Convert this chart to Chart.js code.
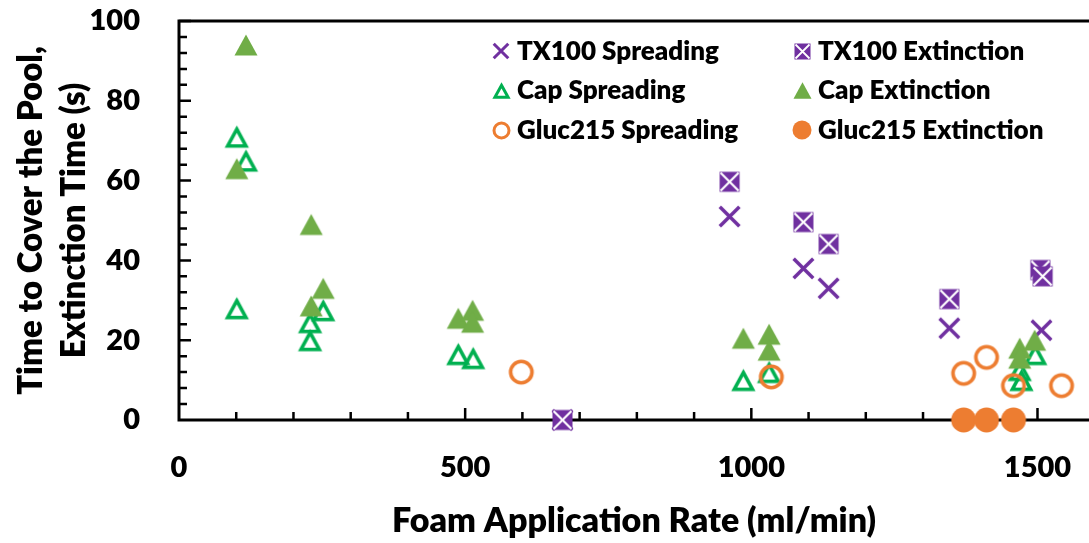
<!DOCTYPE html>
<html>
<head>
<meta charset="utf-8">
<script src="https://cdn.jsdelivr.net/npm/chart.js@4.4.1/dist/chart.umd.min.js"></script>
<style>
  html, body { margin: 0; padding: 0; background: #fff; }
  #wrap { position: relative; width: 1089px; height: 543px; overflow: hidden; }
  #legend { position: absolute; left: 0; top: 0; font-family: Lato, sans-serif; font-weight: 800; font-size: 26px; color: #000; }
  #legend canvas { position: absolute; }
  #legend span { position: absolute; line-height: 32px; white-space: nowrap; }
</style>
</head>
<body>
<div id="wrap">
  <canvas id="chart" width="1089" height="543"></canvas>
  <div id="legend"></div>
</div>
<script>
// --- data (x = ml/min, y = seconds) ---
const tx100SpreadX = [670, 962, 1091, 1135, 1346, 1507];
const tx100SpreadY = [0, 51, 38, 33, 23, 22.5];

const tx100ExtX = [670, 962, 1091, 1135, 1346, 1505, 1509];
const tx100ExtY = [0, 59.7, 49.6, 44.1, 30.3, 37.6, 36];

const capSpreadX = [101, 117, 101, 229, 229, 252, 488, 514, 986, 1031, 1472, 1469, 1496];
const capSpreadY = [71, 65, 28, 20, 24.5, 27.5, 16.5, 15.5, 10, 12, 10, 12.5, 16.5];

const capExtX = [117, 101, 231, 231, 252, 488, 513, 513, 986, 1031, 1031, 1469, 1469, 1495];
const capExtY = [94, 63, 49, 28.6, 33, 25.5, 27.5, 24.5, 20.5, 21.5, 17.5, 18, 15.5, 20];

const glucSpreadX = [598, 1035, 1371, 1411, 1458, 1542];
const glucSpreadY = [12, 10.8, 11.7, 15.7, 8.6, 8.6];

const glucExtX = [1371, 1411, 1458];
const glucExtY = [0, 0, 0];

const seriesLabels = ['TX100 Spreading', 'TX100 Extinction', 'Cap Spreading', 'Cap Extinction', 'Gluc215 Spreading', 'Gluc215 Extinction'];
const xTickLabels = [0, 500, 1000, 1500];
const yTickLabels = [0, 20, 40, 60, 80, 100];

const PURPLE = '#7030A0';
const GREEN = '#00B050';
const LIGHT_GREEN = '#70AD47';
const ORANGE = '#ED7D31';
const TICK_FONT = { family: 'Lato', weight: '800', size: 29 };
const TITLE_FONT = { family: 'Lato', weight: '800', size: 34 };

// draw one Excel-like marker centred at cx,cy with outer size s
function drawMarker(ctx, type, cx, cy, s, lw) {
    ctx.save();
    ctx.lineJoin = 'miter';
    if (type === 'x') {
        const h = s / 2 - 1.2;
        ctx.strokeStyle = PURPLE;
        ctx.lineWidth = lw;
        ctx.beginPath();
        ctx.moveTo(cx - h, cy - h); ctx.lineTo(cx + h, cy + h);
        ctx.moveTo(cx + h, cy - h); ctx.lineTo(cx - h, cy + h);
        ctx.stroke();
    } else if (type === 'xbox') {
        const h = s / 2;
        ctx.fillStyle = PURPLE;
        ctx.fillRect(cx - h, cy - h, s, s);
        ctx.strokeStyle = '#fff';
        ctx.lineWidth = lw;
        ctx.beginPath();
        ctx.moveTo(cx - h + 1, cy - h + 1); ctx.lineTo(cx + h - 1, cy + h - 1);
        ctx.moveTo(cx + h - 1, cy - h + 1); ctx.lineTo(cx - h + 1, cy + h - 1);
        ctx.stroke();
    } else if (type === 'tri') {
        const w = s - 1.6 * lw, h = s - 2 * lw;
        ctx.strokeStyle = GREEN;
        ctx.lineWidth = lw;
        ctx.beginPath();
        ctx.moveTo(cx, cy - h / 2 + 0.8);
        ctx.lineTo(cx + w / 2, cy + h / 2 + 0.8);
        ctx.lineTo(cx - w / 2, cy + h / 2 + 0.8);
        ctx.closePath();
        ctx.stroke();
    } else if (type === 'triFill') {
        const w = s, h = s * 0.92;
        ctx.fillStyle = LIGHT_GREEN;
        ctx.beginPath();
        ctx.moveTo(cx, cy - h / 2);
        ctx.lineTo(cx + w / 2, cy + h / 2);
        ctx.lineTo(cx - w / 2, cy + h / 2);
        ctx.closePath();
        ctx.fill();
    } else if (type === 'circle') {
        ctx.strokeStyle = ORANGE;
        ctx.lineWidth = lw;
        ctx.beginPath();
        ctx.arc(cx, cy, (s - lw) / 2, 0, Math.PI * 2);
        ctx.stroke();
    } else if (type === 'dot') {
        ctx.fillStyle = ORANGE;
        ctx.beginPath();
        ctx.arc(cx, cy, s / 2, 0, Math.PI * 2);
        ctx.fill();
    }
    ctx.restore();
}

function makeMarker(type, s, lw) {
    const c = document.createElement('canvas');
    const size = Math.ceil(s) + 9;
    c.width = size; c.height = size;
    drawMarker(c.getContext('2d'), type, size / 2, size / 2, s, lw);
    return c;
}

const markerTypes = ['x', 'xbox', 'tri', 'triFill', 'circle', 'dot'];
const chartSizes = [[22, 3.5], [20, 2.2], [24, 3.6], [23, 0], [25, 3.6], [25, 0]];
const legendSizes = [[17, 3], [16, 1.8], [18, 3], [18, 0], [18, 3], [19, 0]];

const zip = (xs, ys) => xs.map((x, i) => ({ x: x, y: ys[i] }));
const seriesX = [tx100SpreadX, tx100ExtX, capSpreadX, capExtX, glucSpreadX, glucExtX];
const seriesY = [tx100SpreadY, tx100ExtY, capSpreadY, capExtY, glucSpreadY, glucExtY];

// axis lines, top border and Excel style inside tick marks
const axisPlugin = {
    id: 'excelAxes',
    beforeDatasetsDraw(chart) {
        const { ctx, chartArea: a, scales: { x, y } } = chart;
        ctx.save();
        ctx.strokeStyle = '#000';
        ctx.lineWidth = 3;
        ctx.beginPath();
        ctx.moveTo(a.left, a.top - 1.5); ctx.lineTo(a.left, a.bottom + 1.5);
        ctx.moveTo(a.left - 1.5, a.bottom); ctx.lineTo(a.right, a.bottom);
        ctx.moveTo(a.left - 1.5, a.top); ctx.lineTo(a.right, a.top);
        ctx.stroke();
        ctx.lineWidth = 2.5;
        ctx.beginPath();
        for (let v = 100; v <= x.max; v += 100) {
            const px = x.getPixelForValue(v);
            const len = v % 500 === 0 ? 12 : 8;
            ctx.moveTo(px, a.bottom); ctx.lineTo(px, a.bottom - len);
        }
        for (let v = 4; v <= 100; v += 4) {
            const py = y.getPixelForValue(v);
            const len = v % 20 === 0 ? 12 : 8;
            ctx.moveTo(a.left, py); ctx.lineTo(a.left + len, py);
        }
        ctx.stroke();
        ctx.restore();
    }
};

// keep the plot area where Excel put it
function noPadding(s) {
    s.paddingTop = 0; s.paddingBottom = 0; s.paddingLeft = 0; s.paddingRight = 0;
}

function buildLegend() {
    const legend = document.getElementById('legend');
    const colX = [[501, 517], [802, 818]];
    const rowY = [51, 90, 130];
    seriesLabels.forEach((label, i) => {
        const [mx, tx] = colX[i % 2];
        const ry = rowY[Math.floor(i / 2)];
        const [s, lw] = legendSizes[i];
        const c = makeMarker(markerTypes[i], s, lw);
        c.style.left = (mx - c.width / 2) + 'px';
        c.style.top = (ry - c.height / 2) + 'px';
        legend.appendChild(c);
        const span = document.createElement('span');
        span.textContent = label;
        span.style.left = tx + 'px';
        span.style.top = (ry - 17) + 'px';
        legend.appendChild(span);
    });
}

function draw() {
    const ctx = document.getElementById('chart').getContext('2d');
    const datasets = seriesLabels.map((label, i) => ({
        label: label,
        data: zip(seriesX[i], seriesY[i]),
        pointStyle: makeMarker(markerTypes[i], chartSizes[i][0], chartSizes[i][1]),
        pointRadius: 12,
        order: 5 - i,       // later series on top, like Excel
        clip: false
    }));

    new Chart(ctx, {
        type: 'scatter',
        data: { datasets: datasets },
        plugins: [axisPlugin],
        options: {
            responsive: false,
            animation: false,
            events: [],
            layout: { autoPadding: false, padding: { left: 0, right: 0, top: 21, bottom: 0 } },
            plugins: { legend: { display: false }, tooltip: { enabled: false } },
            scales: {
                x: {
                    type: 'linear', min: 0, max: 1590,
                    grid: { display: false, drawTicks: false },
                    border: { display: false },
                    afterBuildTicks: s => { s.ticks = xTickLabels.map(v => ({ value: v })); },
                    afterFit: s => { s.height = 123; noPadding(s); },
                    ticks: { color: '#000', font: TICK_FONT, padding: 30, maxRotation: 0, autoSkip: false,
                             callback: v => String(v) },
                    title: {
                        display: true, text: 'Foam Application Rate (ml/min)', color: '#000',
                        font: TITLE_FONT, padding: { top: 0, bottom: 2 }
                    }
                },
                y: {
                    type: 'linear', min: 0, max: 100,
                    grid: { display: false, drawTicks: false },
                    border: { display: false },
                    afterBuildTicks: s => { s.ticks = yTickLabels.map(v => ({ value: v })); },
                    afterFit: s => { s.width = 179; noPadding(s); },
                    ticks: { color: '#000', font: TICK_FONT, padding: 39, callback: v => String(v) },
                    title: {
                        display: true, text: ['Time to Cover the Pool,', 'Extinction Time (s)'], color: '#000',
                        font: { family: 'Lato', weight: '800', size: 33, lineHeight: 1.3 },
                        padding: { top: 10, bottom: 0 }
                    }
                }
            }
        }
    });
    buildLegend();
}

document.fonts.load('800 29px Lato').then(draw, draw);
</script>
</body>
</html>
